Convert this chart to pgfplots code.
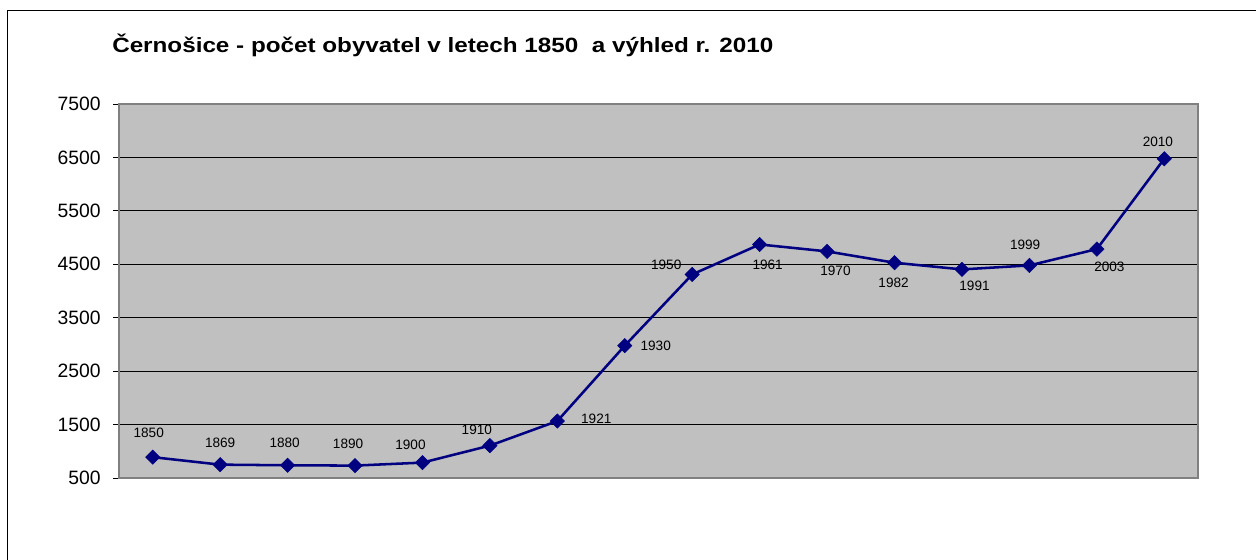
\documentclass[border=0pt]{standalone}
\usepackage{fontspec}
\setmainfont{Liberation Sans}
\usepackage{graphicx}
\usepackage{pgfplots}
\pgfplotsset{compat=1.18}
\usepackage{pgfplotstable}
\definecolor{plotgray}{HTML}{C0C0C0}
\definecolor{bordergray}{HTML}{808080}
\definecolor{navyline}{HTML}{000080}

\pgfplotstableread{
x y lab dx dy
0 890 1850 -3 18
1 750 1869 0 16.2
2 738 1880 -2.2 16.5
3 732 1890 -5.2 16.2
4 788 1900 -9 13
5 1106 1910 -9.8 12
6 1566 1921 29.2 1.5
7 2977 1930 23.2 0
8 4310 1950 -19.5 7.5
9 4871 1961 6 -15
10 4741 1970 6.3 -14.8
11 4529 1982 -0.7 -15
12 4404 1991 9.4 -12
13 4479 1999 -3.2 15.8
14 4784 2003 9.4 -13
15 6475 2010 -4.8 12.4
}\datatable

\begin{document}
\begin{tikzpicture}
\useasboundingbox (0,0) rectangle (942pt,420pt);
\draw[line width=1pt, black] (5.85pt,-2pt) -- (5.85pt,412pt) -- (945pt,412pt);
\node[anchor=base west, inner sep=0pt, font=\fontsize{15.5}{17}\selectfont\bfseries] at (84pt,380.8pt) {\scalebox{1.173}[1]{Černošice - počet obyvatel v letech 1850\ \ a výhled r. 2010}};
\begin{axis}[
  at={(89.25pt,61.5pt)}, anchor=south west,
  scale only axis, width=809.25pt, height=280.5pt,
  xmin=-0.5, xmax=15.5, ymin=500, ymax=7500,
  xtick=\empty,
  ytick={500,1500,...,7500},
  ytick pos=left,
  ymajorgrids, grid style={black, line width=0.6pt},
  axis background/.style={fill=plotgray},
  axis line style={draw=bordergray, line width=1.6pt},
  tick align=outside, major tick length=4.5pt,
  ytick style={black, line width=0.6pt},
  yticklabel style={font=\fontsize{14.5}{16}\selectfont, inner sep=0pt, xshift=-9pt},
  /pgf/number format/assume math mode=true,
  /pgf/number format/1000 sep={},
  clip=false,
]
\addplot[color=navyline, line width=1.9pt, mark=square*, mark size=3.8pt,
  mark options={fill=navyline, draw=navyline, solid, line width=0.4pt, rotate=45},
  point meta=explicit symbolic,
  visualization depends on={\thisrow{dx} \as \dx},
  visualization depends on={\thisrow{dy} \as \dy},
  nodes near coords,
  nodes near coords style={anchor=center, inner sep=0pt, text=black,
     font=\fontsize{10.2}{12}\selectfont, xshift=\dx pt, yshift=\dy pt},
] table[x=x, y=y, meta=lab] {\datatable};
\end{axis}
\end{tikzpicture}
\end{document}
